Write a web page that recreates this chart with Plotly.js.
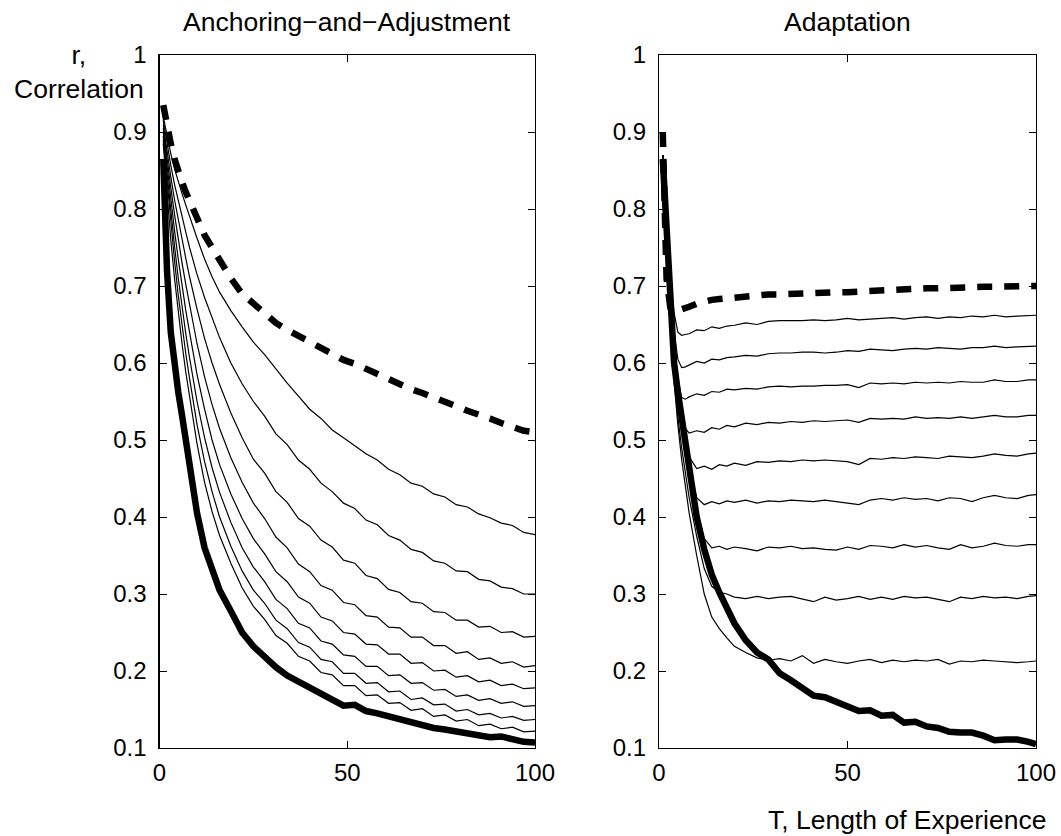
<!DOCTYPE html>
<html>
<head>
<meta charset="utf-8">
<script src="https://cdn.plot.ly/plotly-3.0.1.min.js"></script>
<style>html,body{margin:0;padding:0;background:#fff;}#chart{width:1061px;height:836px;}</style>
</head>
<body>
<div id="chart"></div>
<script>
// ---------- data : left panel (Anchoring-and-Adjustment) ----------
const xLeft = [1,2,3,4,5,6,7,8,9,10,12,14,16,19,22,25,28,31,34,37,40,43,46,49,52,55,58,61,64,67,70,73,76,79,82,85,88,91,94,97,100];
const leftThick = [0.865,0.72,0.64,0.595,0.562,0.532,0.502,0.472,0.44,0.405,0.36,0.33,0.305,0.278,0.25,0.232,0.218,0.205,0.194,0.186,0.177,0.171,0.163,0.155,0.156,0.148,0.145,0.141,0.139,0.133,0.131,0.126,0.124,0.122,0.12,0.118,0.114,0.115,0.111,0.108,0.107];
const leftDashed = [0.935,0.905,0.885,0.865,0.848,0.835,0.822,0.81,0.797,0.786,0.766,0.75,0.733,0.71,0.69,0.677,0.665,0.652,0.643,0.635,0.628,0.62,0.612,0.604,0.599,0.592,0.586,0.58,0.572,0.566,0.561,0.556,0.551,0.544,0.538,0.534,0.528,0.522,0.516,0.512,0.51];
const leftL1 = [0.92,0.895,0.872,0.852,0.835,0.82,0.805,0.79,0.776,0.762,0.735,0.712,0.692,0.668,0.647,0.627,0.611,0.592,0.574,0.557,0.54,0.528,0.513,0.503,0.493,0.482,0.474,0.462,0.455,0.444,0.44,0.43,0.426,0.416,0.413,0.404,0.399,0.392,0.389,0.38,0.377];
const leftL2 = [0.915,0.885,0.857,0.832,0.81,0.79,0.77,0.75,0.732,0.715,0.685,0.658,0.633,0.6,0.573,0.55,0.531,0.508,0.494,0.474,0.462,0.444,0.433,0.418,0.411,0.396,0.39,0.376,0.37,0.358,0.354,0.343,0.34,0.33,0.329,0.319,0.317,0.309,0.307,0.3,0.30];
const leftL3 = [0.91,0.875,0.842,0.812,0.785,0.76,0.736,0.712,0.69,0.67,0.632,0.6,0.572,0.535,0.503,0.475,0.457,0.433,0.419,0.398,0.388,0.37,0.361,0.344,0.34,0.324,0.32,0.306,0.302,0.29,0.288,0.277,0.276,0.266,0.266,0.257,0.258,0.25,0.251,0.244,0.245];
const leftL4 = [0.905,0.865,0.828,0.793,0.76,0.73,0.702,0.675,0.65,0.625,0.582,0.546,0.515,0.477,0.445,0.418,0.398,0.374,0.36,0.339,0.329,0.311,0.305,0.289,0.286,0.272,0.27,0.257,0.256,0.244,0.244,0.233,0.233,0.223,0.225,0.215,0.217,0.21,0.212,0.205,0.207];
const leftL5 = [0.9,0.855,0.812,0.772,0.735,0.70,0.668,0.64,0.611,0.585,0.54,0.5,0.468,0.43,0.398,0.372,0.352,0.329,0.316,0.296,0.288,0.27,0.265,0.25,0.248,0.235,0.234,0.222,0.222,0.21,0.211,0.2,0.201,0.192,0.194,0.186,0.188,0.181,0.183,0.177,0.178];
const leftL6 = [0.895,0.845,0.797,0.752,0.71,0.672,0.638,0.607,0.577,0.55,0.503,0.464,0.432,0.393,0.36,0.335,0.316,0.293,0.281,0.262,0.256,0.239,0.235,0.221,0.219,0.206,0.206,0.194,0.195,0.184,0.185,0.175,0.176,0.167,0.169,0.162,0.164,0.158,0.16,0.154,0.155];
const leftL7 = [0.89,0.835,0.782,0.733,0.688,0.648,0.612,0.58,0.549,0.52,0.472,0.433,0.40,0.362,0.33,0.305,0.288,0.266,0.255,0.237,0.231,0.215,0.212,0.197,0.197,0.184,0.185,0.173,0.174,0.163,0.165,0.156,0.157,0.148,0.15,0.143,0.145,0.139,0.141,0.136,0.137];
const leftL8 = [0.885,0.82,0.76,0.71,0.665,0.625,0.588,0.555,0.524,0.495,0.445,0.407,0.376,0.34,0.308,0.284,0.267,0.246,0.236,0.219,0.213,0.198,0.195,0.181,0.181,0.168,0.169,0.158,0.159,0.149,0.151,0.141,0.143,0.135,0.137,0.129,0.131,0.125,0.127,0.121,0.122];

// ---------- data : right panel (Adaptation) ----------
const xRight = [1,2,3,4,5,6,7,8,10,12,14,16,18,20,23,26,29,32,35,38,41,44,47,50,53,56,59,62,65,68,71,74,77,80,83,86,89,92,95,98,100];
const rightThick = [0.865,0.77,0.67,0.6,0.562,0.53,0.50,0.47,0.40,0.358,0.325,0.302,0.28,0.262,0.24,0.224,0.215,0.197,0.188,0.178,0.168,0.166,0.16,0.156,0.148,0.149,0.142,0.143,0.133,0.134,0.128,0.126,0.121,0.12,0.12,0.116,0.11,0.111,0.111,0.108,0.105];
const rightDashed = [0.9,0.71,0.672,0.668,0.668,0.669,0.671,0.673,0.677,0.68,0.682,0.683,0.684,0.686,0.687,0.688,0.689,0.689,0.69,0.69,0.69,0.691,0.692,0.692,0.693,0.694,0.695,0.696,0.696,0.697,0.697,0.697,0.698,0.698,0.698,0.699,0.699,0.70,0.70,0.70,0.70];
const rightR1 = [0.87,0.78,0.71,0.665,0.64,0.636,0.637,0.638,0.643,0.642,0.647,0.645,0.648,0.649,0.652,0.65,0.654,0.655,0.655,0.655,0.656,0.655,0.656,0.658,0.656,0.657,0.658,0.659,0.657,0.659,0.66,0.658,0.66,0.659,0.661,0.66,0.662,0.66,0.661,0.662,0.662];
const rightR2 = [0.87,0.77,0.69,0.64,0.605,0.594,0.595,0.597,0.602,0.6,0.605,0.604,0.607,0.608,0.61,0.609,0.612,0.613,0.613,0.614,0.614,0.613,0.614,0.616,0.615,0.618,0.617,0.616,0.618,0.619,0.618,0.62,0.619,0.618,0.62,0.62,0.622,0.62,0.621,0.622,0.622];
const rightR3 = [0.87,0.765,0.68,0.625,0.58,0.555,0.553,0.556,0.56,0.558,0.563,0.562,0.566,0.565,0.567,0.566,0.569,0.57,0.569,0.57,0.57,0.571,0.571,0.572,0.568,0.574,0.573,0.574,0.573,0.575,0.574,0.575,0.574,0.576,0.575,0.575,0.578,0.576,0.576,0.578,0.578];
const rightR4 = [0.87,0.76,0.675,0.615,0.57,0.54,0.515,0.509,0.512,0.51,0.516,0.514,0.519,0.517,0.522,0.52,0.523,0.522,0.524,0.523,0.525,0.524,0.525,0.526,0.523,0.528,0.527,0.528,0.527,0.53,0.528,0.529,0.528,0.53,0.528,0.53,0.532,0.53,0.53,0.532,0.532];
const rightR5 = [0.87,0.76,0.67,0.61,0.565,0.53,0.50,0.478,0.463,0.466,0.462,0.468,0.466,0.47,0.467,0.472,0.471,0.473,0.472,0.474,0.473,0.474,0.473,0.472,0.468,0.476,0.475,0.477,0.476,0.478,0.477,0.476,0.479,0.478,0.477,0.479,0.482,0.48,0.479,0.482,0.483];
const rightR6 = [0.87,0.755,0.665,0.605,0.56,0.525,0.495,0.468,0.425,0.416,0.42,0.417,0.421,0.419,0.422,0.418,0.421,0.42,0.422,0.421,0.42,0.422,0.42,0.418,0.416,0.422,0.424,0.422,0.425,0.423,0.424,0.421,0.425,0.424,0.42,0.425,0.428,0.425,0.424,0.428,0.429];
const rightR7 = [0.87,0.755,0.66,0.60,0.555,0.52,0.49,0.46,0.41,0.372,0.36,0.362,0.358,0.361,0.359,0.356,0.361,0.36,0.362,0.359,0.36,0.358,0.357,0.361,0.358,0.363,0.362,0.36,0.364,0.361,0.363,0.36,0.358,0.364,0.36,0.362,0.366,0.363,0.362,0.364,0.364];
const rightR8 = [0.87,0.75,0.65,0.585,0.53,0.49,0.455,0.425,0.375,0.333,0.31,0.302,0.30,0.296,0.294,0.297,0.294,0.296,0.297,0.293,0.29,0.296,0.292,0.294,0.297,0.293,0.296,0.293,0.297,0.295,0.296,0.293,0.29,0.296,0.294,0.297,0.295,0.296,0.294,0.297,0.298];
const rightR9 = [0.87,0.745,0.645,0.575,0.52,0.475,0.44,0.405,0.35,0.30,0.27,0.255,0.243,0.232,0.224,0.217,0.214,0.216,0.213,0.22,0.21,0.215,0.212,0.21,0.213,0.215,0.211,0.214,0.212,0.214,0.213,0.215,0.209,0.213,0.212,0.214,0.213,0.212,0.211,0.212,0.213];

const xTickVals = [0,50,100];
const xTickText = ['0','50','100'];
const yTickVals = [0.1,0.2,0.3,0.4,0.5,0.6,0.7,0.8,0.9,1];
const yTickText = ['0.1','0.2','0.3','0.4','0.5','0.6','0.7','0.8','0.9','1'];
const panelTitles = ['Anchoring\u2212and\u2212Adjustment','Adaptation'];
const yLabel = 'r,<br>Correlation';
const xLabel = 'T, Length of Experience';

// ---------- traces ----------
const thin = {color:'#000', width:1.2};
const thick = {color:'#000', width:6.5};
const dashed = {color:'#000', width:6.5, dash:'15px,12px'};
const traces = [];
function add(x, y, line, xa, ya){ traces.push({x:x, y:y, type:'scatter', mode:'lines', line:line, xaxis:xa, yaxis:ya, hoverinfo:'skip', showlegend:false}); }
[leftL1,leftL2,leftL3,leftL4,leftL5,leftL6,leftL7,leftL8].forEach(s=>add(xLeft,s,thin,'x','y'));
add(xLeft,leftThick,thick,'x','y');
add(xLeft,leftDashed,dashed,'x','y');
[rightR1,rightR2,rightR3,rightR4,rightR5,rightR6,rightR7,rightR8,rightR9].forEach(s=>add(xRight,s,thin,'x2','y2'));
add(xRight,rightThick,thick,'x2','y2');
add(xRight,rightDashed,dashed,'x2','y2');

const FONT = 'Liberation Sans, Arial, Helvetica, sans-serif';
const TICK = 24, LAB = 26.5;
function xa(dom, anchor){ return {domain:dom, anchor:anchor, range:[0,100], tickmode:'array', tickvals:xTickVals, ticktext:xTickText,
  ticks:'inside', ticklen:7, tickcolor:'#000', showline:true, linecolor:'#000', linewidth:1.2, mirror:'ticks',
  showgrid:false, zeroline:false, tickfont:{family:FONT, size:TICK, color:'#000'}, ticklabelstandoff:3}; }
function ya(dom, anchor){ return {domain:dom, anchor:anchor, range:[0.1,1], tickmode:'array', tickvals:yTickVals, ticktext:yTickText,
  ticks:'inside', ticklen:7, tickcolor:'#000', showline:true, linecolor:'#000', linewidth:1.2, mirror:'ticks',
  showgrid:false, zeroline:false, tickfont:{family:FONT, size:TICK, color:'#000'}, ticklabelstandoff:7}; }

const W = 1061, H = 836;
const leftDom = [159.5/W, 535/W], rightDom = [659/W, 1036/W], yDom = [(H-748)/H, (H-55)/H];
const layout = {
  width:W, height:H, margin:{l:0,r:0,t:0,b:0}, paper_bgcolor:'#fff', plot_bgcolor:'#fff', showlegend:false,
  font:{family:FONT, color:'#000'},
  xaxis: xa(leftDom,'y'), yaxis: ya(yDom,'x'),
  xaxis2: xa(rightDom,'y2'), yaxis2: ya(yDom,'x2'),
  annotations:[
    {text:panelTitles[0], xref:'paper', yref:'paper', x:(leftDom[0]+leftDom[1])/2, y:1-22/H, xanchor:'center', yanchor:'middle', showarrow:false, font:{family:FONT,size:LAB,color:'#000'}},
    {text:panelTitles[1], xref:'paper', yref:'paper', x:(rightDom[0]+rightDom[1])/2, y:1-22/H, xanchor:'center', yanchor:'middle', showarrow:false, font:{family:FONT,size:LAB,color:'#000'}},
    {text:yLabel, xref:'paper', yref:'paper', x:79/W, y:1-72/H, xanchor:'center', yanchor:'middle', align:'center', showarrow:false, font:{family:FONT,size:LAB,color:'#000'}},
    {text:xLabel, xref:'paper', yref:'paper', x:907/W, y:1-820/H, xanchor:'center', yanchor:'middle', showarrow:false, font:{family:FONT,size:LAB,color:'#000'}}
  ]
};
Plotly.newPlot('chart', traces, layout, {staticPlot:true, displayModeBar:false});
</script>
</body>
</html>
